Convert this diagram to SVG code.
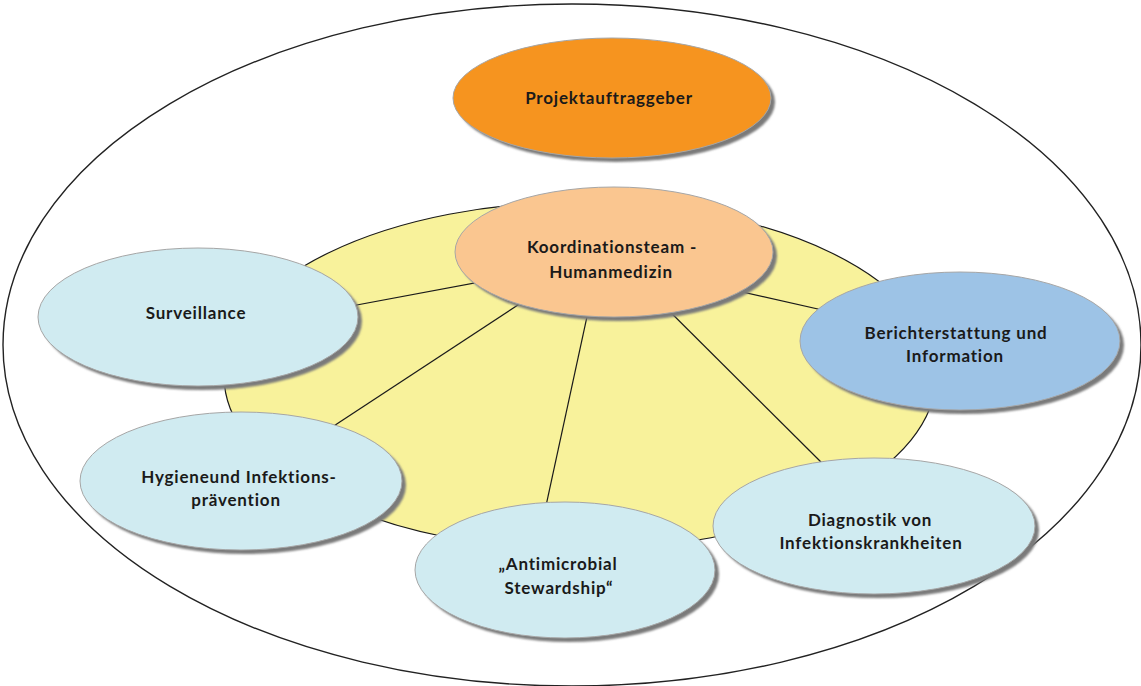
<svg xmlns="http://www.w3.org/2000/svg" width="1141" height="686" viewBox="0 0 1141 686">
  <defs>
    <filter id="blur" x="-10%" y="-10%" width="120%" height="120%">
      <feGaussianBlur stdDeviation="1"/>
    </filter>
    <style>
      .shadow { fill: #7a7a7a; filter: url(#blur); }
      .node { stroke: #a6a6a6; stroke-width: 1; }
      .label { font-family: Lato, "Liberation Sans", sans-serif; font-weight: bold; font-size: 17px; letter-spacing: 0.8px; fill: #1a1a1a; text-anchor: middle; }
      .spoke { stroke: #1a1a1a; stroke-width: 1.2; fill: none; }
    </style>
  </defs>
  <rect width="1141" height="686" fill="#ffffff"/>

  <g id="outer">
    <ellipse cx="572" cy="345" rx="569" ry="341" fill="none" stroke="#222" stroke-width="1.4"/>
  </g>

  <g id="ring">
    <ellipse cx="580" cy="376" rx="356" ry="174" fill="#f8f29b" stroke="#1a1a1a" stroke-width="1.2"/>
  </g>

  <g id="connectors">
    <line class="spoke" x1="614" y1="257" x2="330" y2="310"/>
    <line class="spoke" x1="614" y1="242" x2="320" y2="435"/>
    <line class="spoke" x1="614" y1="263" x2="840" y2="314"/>
    <line class="spoke" x1="614" y1="256" x2="830" y2="471"/>
    <line class="spoke" x1="601" y1="252" x2="544" y2="515"/>
  </g>

  <g id="projektauftraggeber">
    <ellipse class="shadow" cx="616" cy="102" rx="159" ry="60"/>
    <ellipse class="node" cx="612" cy="98" rx="159" ry="60" fill="#f6941f"/>
    <text class="label" x="609" y="104">Projektauftraggeber</text>
  </g>

  <g id="koordinationsteam">
    <ellipse class="shadow" cx="618" cy="256" rx="159" ry="65"/>
    <ellipse class="node" cx="614" cy="252" rx="159" ry="65" fill="#fac690"/>
    <text class="label" x="612" y="253">Koordinationsteam -</text>
    <text class="label" x="611" y="278">Humanmedizin</text>
  </g>

  <g id="surveillance">
    <ellipse class="shadow" cx="202" cy="321" rx="160" ry="69"/>
    <ellipse class="node" cx="198" cy="317" rx="160" ry="69" fill="#d0ebf1"/>
    <text class="label" x="196" y="319">Surveillance</text>
  </g>

  <g id="berichterstattung">
    <ellipse class="shadow" cx="964" cy="345" rx="160" ry="69"/>
    <ellipse class="node" cx="960" cy="341" rx="160" ry="69" fill="#9dc3e6"/>
    <text class="label" x="956" y="339">Berichterstattung und</text>
    <text class="label" x="955" y="362">Information</text>
  </g>

  <g id="hygiene">
    <ellipse class="shadow" cx="245" cy="485" rx="161" ry="69"/>
    <ellipse class="node" cx="241" cy="481" rx="161" ry="69" fill="#d0ebf1"/>
    <text class="label" x="239" y="483">Hygieneund Infektions-</text>
    <text class="label" x="236" y="506">prävention</text>
  </g>

  <g id="antimicrobial">
    <ellipse class="shadow" cx="569" cy="574" rx="150" ry="68"/>
    <ellipse class="node" cx="565" cy="570" rx="150" ry="68" fill="#d0ebf1"/>
    <text class="label" x="558" y="570">„Antimicrobial</text>
    <text class="label" x="559" y="594">Stewardship“</text>
  </g>

  <g id="diagnostik">
    <ellipse class="shadow" cx="878" cy="530" rx="161" ry="68"/>
    <ellipse class="node" cx="874" cy="526" rx="161" ry="68" fill="#d0ebf1"/>
    <text class="label" x="870" y="526">Diagnostik von</text>
    <text class="label" x="871" y="549">Infektionskrankheiten</text>
  </g>
</svg>
